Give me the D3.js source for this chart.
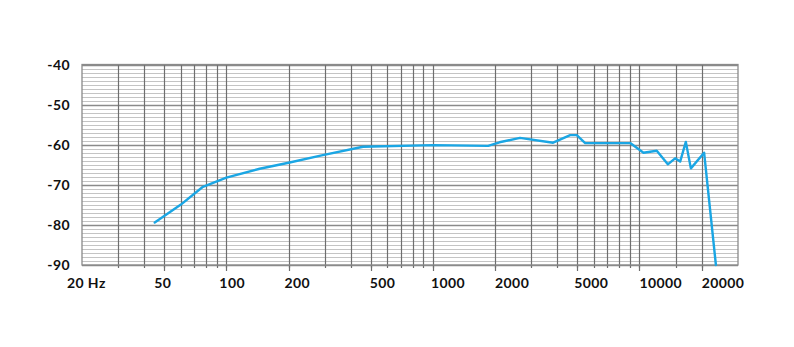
<!DOCTYPE html>
<html>
<head>
<meta charset="utf-8">
<script src="https://cdn.jsdelivr.net/npm/d3@7/dist/d3.min.js"></script>
<style>
  html, body { margin: 0; padding: 0; background: #fff; }
  svg { display: block; }
  text { font-family: Lato, "Open Sans", sans-serif; font-weight: 700; fill: #111; letter-spacing: 0.4px; }
</style>
</head>
<body>
<svg id="chart" width="794" height="347"></svg>
<script>
// ---- data ----
const freqs = [45, 60, 77, 100, 145, 200, 293, 459, 1000, 1850, 2100, 2640, 3820, 4620, 4970, 5460, 9020, 10460, 12130, 13720, 14880, 15740, 16770, 17740, 20560, 23450];
const levels = [-79.4, -75.0, -70.5, -68.2, -66.0, -64.5, -62.6, -60.5, -60.1, -60.3, -59.4, -58.3, -59.5, -57.6, -57.6, -59.6, -59.6, -62.0, -61.5, -64.9, -63.4, -64.2, -59.3, -65.9, -62.0, -90];
const xTickValues = [20, 50, 100, 200, 500, 1000, 2000, 5000, 10000, 20000];
const xTickLabels = ["20 Hz", "50", "100", "200", "500", "1000", "2000", "5000", "10000", "20000"];
const xGridValues = [30, 40, 50, 60, 70, 80, 90, 100, 200, 300, 400, 500, 600, 700, 800, 900, 1000, 2000, 3000, 4000, 5000, 6000, 7000, 8000, 9000, 10000, 15000, 20000];
const yTickValues = [-40, -50, -60, -70, -80, -90];
const yTickLabels = ["-40", "-50", "-60", "-70", "-80", "-90"];

// ---- layout ----
const L = 82, R = 738, T = 64.5, B = 265;
const svg = d3.select("#chart");
const x = d3.scaleLog().domain([20, 30000]).range([L, R]);
const y = d3.scaleLinear().domain([-90, -40]).range([B, T]);

// horizontal minor grid (1 dB)
const minor = d3.range(-89, -40, 1).filter(v => v % 10 !== 0);
svg.append("g").selectAll("line").data(minor).join("line")
  .attr("x1", L).attr("x2", R)
  .attr("y1", d => Math.round(y(d)) + 0.5).attr("y2", d => Math.round(y(d)) + 0.5)
  .attr("stroke", "#c4c4c4").attr("stroke-width", 1);

// major horizontal lines
svg.append("g").selectAll("line").data(yTickValues).join("line")
  .attr("x1", L).attr("x2", R)
  .attr("y1", d => Math.round(y(d)) + 0.5).attr("y2", d => Math.round(y(d)) + 0.5)
  .attr("stroke", "#8a8a8a").attr("stroke-width", 1.3);

// vertical grid
svg.append("g").selectAll("line").data(xGridValues).join("line")
  .attr("x1", d => Math.round(x(d)) + 0.5).attr("x2", d => Math.round(x(d)) + 0.5)
  .attr("y1", T).attr("y2", B + 3)
  .attr("stroke", "#6e6e6e").attr("stroke-width", 1.2);

// longer ticks at labelled frequencies
svg.append("g").selectAll("line").data(xTickValues.slice(1)).join("line")
  .attr("x1", d => Math.round(x(d)) + 0.5).attr("x2", d => Math.round(x(d)) + 0.5)
  .attr("y1", B).attr("y2", B + 6)
  .attr("stroke", "#6e6e6e").attr("stroke-width", 1.2);

// frame
svg.append("rect").attr("x", L).attr("y", T).attr("width", R - L).attr("height", B - T)
  .attr("fill", "none").attr("stroke", "#8a8a8a").attr("stroke-width", 1.3);

// curve
const line = d3.line().x((d, i) => x(freqs[i])).y((d, i) => y(levels[i]));
svg.append("path").datum(levels).attr("d", line)
  .attr("fill", "none").attr("stroke", "#1aa6e4").attr("stroke-width", 2.4)
  .attr("stroke-linejoin", "round").attr("stroke-linecap", "round");

// y labels
svg.append("g").selectAll("text").data(yTickValues).join("text")
  .attr("x", 70).attr("y", d => y(d)).attr("dy", "0.36em")
  .attr("text-anchor", "end").attr("font-size", 14)
  .text((d, i) => yTickLabels[i]);

// x labels
const labelShift = [-15, -10, -7, -4, -1, -2, 0, -3, 0, 0];
svg.append("g").selectAll("text").data(xTickValues).join("text")
  .attr("x", (d, i) => x(d) + labelShift[i]).attr("y", 283).attr("dy", "0.36em")
  .attr("text-anchor", "start").attr("font-size", 14)
  .text((d, i) => xTickLabels[i]);
</script>
</body>
</html>
